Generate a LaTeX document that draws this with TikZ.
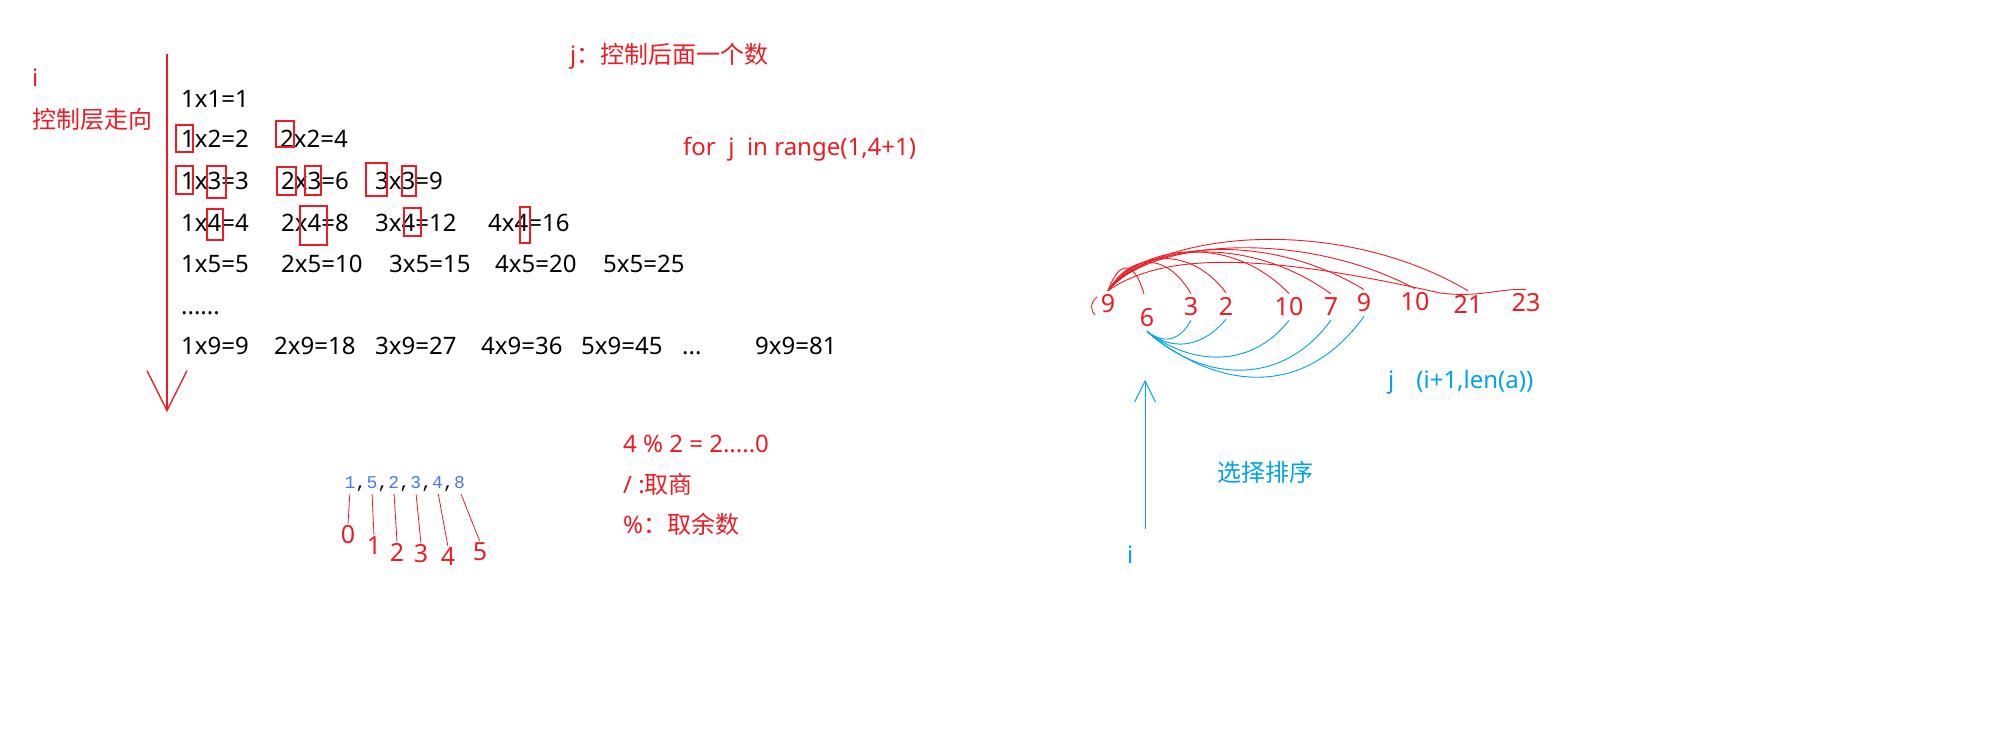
\documentclass[tikz,border=0pt]{standalone}
\usepackage{fontspec}
\setmainfont{Noto Sans}
\newfontfamily\cjk{Noto Sans CJK SC}
\setmonofont{Liberation Mono}
\usetikzlibrary{arrows.meta}
\definecolor{inkred}{RGB}{237,28,36}
\definecolor{inkblue}{RGB}{0,162,232}
\definecolor{codeblue}{RGB}{70,120,245}
\newcommand{\rowdots}{......}
\newcommand{\celldots}{...}

\begin{document}
\begin{tikzpicture}[x=1pt, y=-1pt,
        txt/.style={anchor=base west, inner sep=0pt, font=\fontsize{24}{28}\selectfont},
        note/.style={txt, text=inkred},
        bnote/.style={txt, text=inkblue},
        cell/.style={txt, text=black},
        code/.style={anchor=base, inner sep=2pt, font=\ttfamily\fontsize{18}{20}\selectfont},
        num/.style={inner sep=4pt, text=inkred, font=\fontsize{25}{28}\selectfont},
        idx/.style={inner sep=1pt, text=inkred, font=\fontsize{25}{28}\selectfont},
        hl/.style={draw=inkred, line width=1.2pt},
        redarc/.style={inkred, line width=0.9pt},
        bluearc/.style={inkblue, line width=0.9pt},
        arrow/.style={-{Straight Barb[length=#1pt, width=#1pt]}}
    ]
        \useasboundingbox (0,0) rectangle (2014,736);

        % Outer loop i
        \node[note] (ilabel) at (32,86) {i};
        \node[note] (irole) at (32,128) {\cjk 控制层走向};
        \coordinate (itop) at (167,54);
        \coordinate (ibot) at (167,412);
        \draw[inkred, line width=1.3pt, arrow=40] (itop) -- (ibot);

        % Multiplication table
        \foreach \y/\x/\t [count=\k] in {107/181/1x1=1,
                147/181/1x2=2, 147/280/2x2=4,
                189/181/1x3=3, 189/281/2x3=6, 189/375/3x3=9,
                231/181/1x4=4, 231/281/2x4=8, 231/375/3x4=12, 231/488/4x4=16,
                272/181/1x5=5, 272/281/2x5=10, 272/389/3x5=15, 272/495/4x5=20, 272/603/5x5=25,
                314/181/\rowdots,
                354/181/1x9=9, 354/274/2x9=18, 354/375/3x9=27, 354/481/4x9=36, 354/581/5x9=45, 354/682/\celldots, 354/755/9x9=81}
            \node[cell] (t\k) at (\x,\y) {\t};

        % Marked digits
        \foreach \xa/\ya/\xb/\yb in {176/125/193/152, 276/121/294/147,
                176/166/193/194, 207/166/226/198, 277/167/296/195, 305/166/321/195, 366/163/387/196, 402/166/416/196,
                207/209/223/240, 300/206/327/245, 404/208/421/236, 520/207/530/243}
            \draw[hl] (\xa,\ya) rectangle (\xb,\yb);

        % Inner loop j
        \node[note] (jrole) at (570,63) {j{\cjk ：控制后面一个数}};
        \node[note] (jloop) at (683,155) {for\ \ j\ \ in range(1,4+1)};

        % List and its indices
        \foreach \d [count=\k from 0] in {1,5,2,3,4,8}
            \node[code, text=codeblue] (d\k) at (350+21.9*\k,488) {\d};
        \foreach \k in {0,1,2,3,4}
            \node[code, text=black] (c\k) at (361+21.9*\k,488) {,};
        \foreach \k/\x/\y in {0/348/535, 1/374/546, 2/397/552, 3/421/554, 4/448/557, 5/480/552}
            \node[idx] (i\k) at (\x,\y) {\k};
        \foreach \k in {0,1,2,3,4,5}
            \draw[inkred, line width=0.8pt, shorten <=4pt, shorten >=1pt] (d\k.south) -- (i\k.north);

        % Division notes
        \node[note] (mod) at (623,452) {4 \% 2 = 2.....0};
        \node[note] (quot) at (623,493) {/ :{\cjk 取商}};
        \node[note] (rem) at (623,533) {\%{\cjk ：取余数}};

        % Selection sort
        \foreach \v/\x/\y [count=\k] in {9/1108/304, 6/1147/318, 3/1191/307, 2/1226/306, 10/1289/307,
                7/1331/307, 9/1364/303, 10/1415/302, 21/1468/304, 23/1526/303}
            \node[num] (n\k) at (\x,\y) {\v};
        \draw[redarc] (1097,297) .. controls (1090,303) and (1090,309) .. (1095,315);

        \draw[redarc, shorten >=11pt] (n1.north) .. controls (1120,258) and (1135,262) .. (n2.north);
        \draw[redarc] (n1.north) .. controls (1130,255) and (1165,250) .. (n3.north);
        \draw[redarc] (n1.north) .. controls (1135,250) and (1190,245) .. (n4.north);
        \draw[redarc] (n1.north) .. controls (1140,245) and (1230,232) .. (n5.north);
        \draw[redarc] (n1.north) .. controls (1145,242) and (1250,235) .. (n6.north);
        \draw[redarc] (n1.north) .. controls (1150,240) and (1270,232) .. (n7.north);
        \draw[redarc] (n1.north) .. controls (1150,240) and (1300,228) .. (n8.north);
        \draw[redarc] (n1.north) .. controls (1160,230) and (1340,215) .. (n9.north);
        \coordinate (wave) at (1440,293);
        \draw[redarc] (n1.north) .. controls (1160,255) and (1250,250) .. (wave)
            .. controls (1480,298) and (1500,288) .. (n10.north);

        \draw[bluearc] (n2.south) .. controls (1165,345) and (1180,340) .. (n3.south);
        \draw[bluearc] (n2.south) .. controls (1170,350) and (1200,350) .. (n4.south);
        \draw[bluearc] (n2.south) .. controls (1190,365) and (1250,370) .. (n5.south);
        \draw[bluearc] (n2.south) .. controls (1200,380) and (1280,390) .. (n6.south);
        \draw[bluearc] (n2.south) .. controls (1210,385) and (1300,405) .. (n7.south);

        \node[bnote] (jrange) at (1388,388) {j\hspace{22pt}(i+1,len(a))};
        \node[bnote] (sort) at (1217,481) {\cjk 选择排序};
        \node[bnote] (ipos) at (1127,563) {i};
        \coordinate (sbot) at (1145,529);
        \coordinate (stop) at (1145,380);
        \draw[inkblue, line width=1pt, arrow=21] (sbot) -- (stop);
    \end{tikzpicture}
\end{document}
